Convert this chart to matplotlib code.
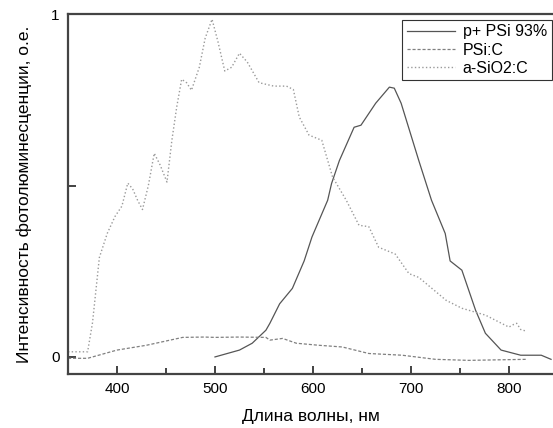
import matplotlib
matplotlib.use("Agg")
import matplotlib.pyplot as plt
from matplotlib.ticker import FixedLocator

plt.rcParams['font.family'] = ['Liberation Sans', 'DejaVu Sans']

# p+ PSi 93% (solid)
wl_psi = [500, 525, 538, 552, 556, 566, 579, 591, 599, 615, 619, 627, 642, 649, 664,
          678, 683, 690, 708, 721, 735, 740, 752, 766, 776, 792, 812, 833, 843]
int_psi = [0.0, 0.02, 0.04, 0.078, 0.098, 0.155, 0.2, 0.28, 0.35, 0.457, 0.506, 0.573,
           0.67, 0.676, 0.74, 0.787, 0.784, 0.74, 0.573, 0.457, 0.36, 0.28, 0.253,
           0.136, 0.069, 0.02, 0.005, 0.005, -0.007]

# PSi:C (dashed)
wl_psic = [350, 370, 400, 430, 467, 489, 500, 525, 552, 556, 569, 583, 606, 630, 657,
           691, 725, 759, 818]
int_psic = [-0.004, -0.004, 0.02, 0.034, 0.057, 0.058, 0.057, 0.058, 0.057, 0.049,
            0.054, 0.04, 0.034, 0.029, 0.01, 0.005, -0.007, -0.01, -0.007]

# a-SiO2:C (dotted)
wl_sio = [350, 370, 375, 382, 390, 398, 405, 411, 416, 421, 426, 432, 438, 444, 451,
          456, 461, 466, 471, 476, 484, 490, 497, 503, 510, 517, 525, 533, 545, 560,
          573, 580, 586, 596, 609, 620, 634, 647, 657, 667, 684, 698, 708, 736, 752,
          776, 800, 805, 808, 812, 818]
int_sio = [0.015, 0.015, 0.1, 0.29, 0.36, 0.41, 0.44, 0.507, 0.49, 0.457, 0.43, 0.5,
           0.594, 0.56, 0.51, 0.632, 0.73, 0.81, 0.8, 0.778, 0.845, 0.93, 0.985, 0.92,
           0.834, 0.845, 0.886, 0.86, 0.80, 0.79, 0.79, 0.78, 0.70, 0.647, 0.632, 0.525,
           0.457, 0.384, 0.38, 0.32, 0.30, 0.243, 0.232, 0.165, 0.142, 0.122, 0.087,
           0.095, 0.098, 0.08, 0.075]

fig = plt.figure(figsize=(5.53, 4.28), dpi=100)
ax = fig.add_axes([0.123, 0.126, 0.877, 0.841])

ax.plot(wl_psi, int_psi, '-', color='#555555', lw=0.9, label='p+ PSi 93%')
ax.plot(wl_psic, int_psic, '--', color='#808080', lw=0.9, dashes=(2.5, 1.5), label='PSi:C')
ax.plot(wl_sio, int_sio, ':', color='#9a9a9a', lw=1.0, label='a-SiO2:C')

ax.set_xlim(350, 845)
ax.set_ylim(-0.05, 1.0)

ax.xaxis.set_major_locator(FixedLocator([400, 500, 600, 700, 800]))
ax.xaxis.set_minor_locator(FixedLocator([450, 550, 650, 750]))
ax.yaxis.set_major_locator(FixedLocator([0, 0.5, 1]))
ax.set_yticklabels(['0', '', '1'])

ax.tick_params(axis='both', which='major', direction='in', length=6, width=1.2,
               color='#222222', labelsize=11, pad=6)
ax.tick_params(axis='x', which='minor', direction='in', length=4, width=1.2,
               color='#222222')

for side in ['left', 'bottom', 'top']:
    ax.spines[side].set_color('#444444')
    ax.spines[side].set_linewidth(1.6)
ax.spines['right'].set_visible(False)

ax.set_xlabel('Длина волны, нм', fontsize=12.5, labelpad=9)
ax.set_ylabel('Интенсивность фотолюминесценции, о.е.', fontsize=12.5, labelpad=14)

leg = ax.legend(loc='upper left', bbox_to_anchor=(0.689, 0.985), fontsize=11.5,
                fancybox=False, framealpha=1, edgecolor='#333333',
                handlelength=3.0, handletextpad=0.5, borderpad=0.3,
                labelspacing=0.2, borderaxespad=0)
leg.get_frame().set_linewidth(0.8)

fig.savefig('out.png', dpi=100)
